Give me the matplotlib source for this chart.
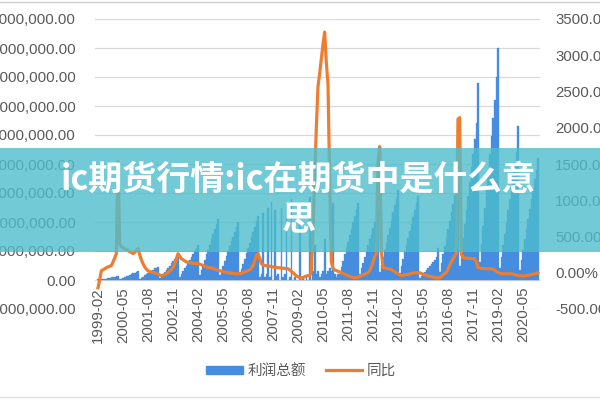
import matplotlib
matplotlib.use("Agg")
import matplotlib.pyplot as plt
from matplotlib.patches import Rectangle, Patch
from matplotlib.lines import Line2D
import pandas as pd

# monthly categories, first label 1999-02
months = [p.strftime("%Y-%m") for p in pd.period_range("1999-02", periods=265, freq="M")]

# 利润总额 (millions, left axis)
profit = [
    0.02,
    0.01, 0.02, 0.03, 0.04, 0.05, 0.06, 0.07, 0.09, 0.10, 0.12, 0.13, 0.15,
    0.03, 0.05, 0.08, 0.10, 0.13, 0.15, 0.18, 0.20, 0.23, 0.25, 0.28, 0.30,
    0.04, 0.08, 0.12, 0.16, 0.20, 0.24, 0.28, 0.32, 0.36, 0.40, 0.42, 0.45,
    0.07, 0.14, 0.21, 0.28, 0.35, 0.42, 0.50, 0.57, 0.64, 0.71, 0.78, 0.85,
    0.10, 0.20, 0.30, 0.40, 0.50, 0.60, 0.70, 0.80, 0.90, 1.00, 1.10, 1.20,
    0.18, 0.35, 0.52, 0.70, 0.88, 1.05, 1.22, 1.40, 1.58, 1.75, 1.92, 2.10,
    0.17, 0.33, 0.50, 0.67, 0.83, 1.00, 1.17, 1.33, 1.50, 1.67, 1.83, 2.00,
    0.18, 0.37, 0.55, 0.73, 0.92, 1.10, 1.28, 1.47, 1.65, 1.83, 2.02, 2.20,
    0.10, 0.20, 2.30, 0.10, 0.20, 2.50, 0.10, 2.70, 0.00, 2.40, 0.15, 0.20,
    0.00, 2.50, 0.10, 0.20, 2.60, 0.00, 0.10, 2.80, 0.00, 0.10, 0.00, 0.00,
    2.00, 0.00, 0.10, 0.00, 0.10, 0.00, 2.85, 0.00, 0.30, 1.20, 0.20, 0.30,
    0.10, 0.20, 0.30, 1.40, 0.20, 0.30, 0.40, 0.30, 2.65, 0.20, 0.10, 0.20,
    0.22, 0.44, 0.66, 0.88, 1.10, 1.32, 1.55, 1.77, 1.99, 2.21, 2.43, 2.65,
    0.20, 0.40, 0.60, 0.80, 1.00, 1.20, 1.40, 1.60, 1.80, 2.00, 2.20, 2.40,
    0.26, 0.52, 0.78, 1.03, 1.29, 1.55, 1.81, 2.07, 2.33, 2.58, 2.84, 3.10,
    0.24, 0.48, 0.73, 0.97, 1.21, 1.45, 1.69, 1.93, 2.18, 2.42, 2.66, 2.90,
    0.07, 0.14, 0.21, 0.28, 0.35, 0.42, 0.49, 0.56, 0.63, 0.70, 0.80, 1.10,
    0.29, 0.58, 0.88, 1.17, 1.46, 1.75, 2.04, 2.33, 2.63, 2.92, 3.21, 3.50,
    0.48, 0.97, 1.45, 1.94, 2.42, 2.91, 3.39, 3.88, 4.36, 4.85, 5.40, 6.80,
    0.62, 1.24, 1.86, 2.48, 3.10, 3.72, 4.34, 4.96, 5.58, 6.20, 7.00, 8.00,
    0.40, 0.80, 1.20, 1.60, 2.00, 2.40, 2.80, 3.20, 3.60, 4.00, 4.40, 5.30,
    0.35, 0.70, 1.05, 1.40, 1.75, 2.10, 2.45, 2.80, 3.15, 3.50, 3.80, 4.20,
]

# 同比 (%, right axis)
yoy = [
    -208, -100, 28, 40, 55, 70, 80, 90, 97, 150, 200, 264,
    1530,
    400, 360, 347, 330, 320, 306, 290, 280, 264, 280, 310,
    333, 250, 180, 125, 80, 50, 28, 15, 10, 5, 0, -10,
    -20, -30, -42, -35, -25, -10, 0, 20, 45, 70, 120, 190,
    264, 230, 194, 180, 165, 150, 145, 139, 135, 130, 128, 126,
    125, 120, 110, 100, 90, 80, 70, 70, 65, 60, 50, 40,
    35, 28, 20, 15, 10, 5, 0, 0, -5, -10, -12, -14,
    -14, -10, -5, 0, 10, 20, 28, 40, 60, 100, 160, 236,
    264, 200, 125, 110, 100, 97, 95, 90, 85, 80, 75, 72,
    70, 68, 65, 62, 60, 58, 55, 40, 20, 0, -20, -42,
    -55, -65, -70, -65, -55, -45, -40, -40,
    20, 600, 1300, 2000, 2570, 2750, 2950, 3150, 3320, 2900, 2600, 1300, 150,
    60, 40, 30, 20, 10, 0, -10, -20, -30, -40, -50, -60, -65, -70, -70,
    -60, -50, -42, -30, -20, -10, 0, 30, 80, 150, 220, 264,
    1500, 1740, 300,
    70, 65, 60, 55, 55, 45, 30, 15, 0, -15, -30, -42,
    -35, -30, -25, -20, -14, -10, -5, 0, 0, 0, 0, -10,
    -20, -30, -35, -42, -50, -55, -60, -65, -70, -70, -70, -50,
    -30, -10, 0, 50, 100, 150, 194, 230, 264,
    2120, 2140, 260,
    208, 205, 200, 200, 198, 196, 195, 194, 150, 70, 65, 60,
    58, 56, 55, 55, 55, 55, 50, 35, 20, 5, -5, -14,
    -14, -14, -14, -14, -14, -14, -20, -25, -30, -35, -40, -42,
    -42, -42, -40, -35, -30, -25, -20, -14, -10, 0,
]

left_ticks = [-1, 0, 1, 2, 3, 4, 5, 6, 7, 8, 9]
right_ticks = [-500, 0, 500, 1000, 1500, 2000, 2500, 3000, 3500]
label_step = 15
series_names = ["利润总额", "同比"]
title_lines = ["ic期货行情:ic在期货中是什么意", "思"]

assert len(profit) == len(months) == len(yoy)

BLUE = "#468CDF"
ORANGE = "#ED7D31"
GREY = "#595959"

plt.rcParams['font.family'] = ['Liberation Sans', 'Noto Sans CJK SC', 'DejaVu Sans']

fig = plt.figure(figsize=(6, 4), dpi=100)
ax = fig.add_axes([95 / 600, 1 - 309 / 400, 445 / 600, 290 / 400])
ax2 = ax.twinx()

x = list(range(len(months)))
ax.bar(x, profit, width=1.0, color=BLUE, edgecolor=BLUE, linewidth=0.25, zorder=2)
ax.set_ylim(left_ticks[0], left_ticks[-1])
ax.set_yticks(left_ticks)
ax.set_yticklabels([f"{v * 1_000_000:,.2f}" for v in left_ticks])
ax.grid(axis='y', color='#D9D9D9', lw=0.9)
ax.set_axisbelow(True)
ax.set_xlim(-1.8, 265.2)
ax.set_xticks([])
for s in ax.spines.values():
    s.set_visible(False)
ax.tick_params(axis='y', length=0, pad=14, labelsize=10.8, labelcolor=GREY)

ax2.plot(x, yoy, color=ORANGE, lw=2.3, solid_joinstyle='round', zorder=3)
ax2.set_ylim(right_ticks[0], right_ticks[-1])
ax2.set_yticks(right_ticks)
ax2.set_yticklabels([f"{v:.2f}%" for v in right_ticks])
ax2.tick_params(axis='y', length=0, pad=11, labelsize=10.8, labelcolor=GREY)
for s in ax2.spines.values():
    s.set_visible(False)

for i in range(0, len(months), label_step):
    ax.annotate(months[i], xy=(i, 0), xycoords='data', xytext=(0, -5),
                textcoords='offset points', rotation=90, ha='center', va='top',
                fontsize=10.8, color=GREY)

handles = [Patch(color=BLUE), Line2D([], [], color=ORANGE, lw=2.3)]
fig.legend(handles=handles, labels=series_names, loc='center',
           bbox_to_anchor=(0.502, 0.0725), ncol=2, frameon=False,
           prop={'family': ['Noto Sans CJK SC'], 'size': 10.5},
           labelcolor=GREY, handlelength=2.5, handleheight=0.5,
           columnspacing=1.4, handletextpad=0.3)

# border lines
fig.add_artist(Line2D([0, 1], [0.996, 0.996], transform=fig.transFigure, color='#D0D0D0', lw=1))
fig.add_artist(Line2D([0, 1], [0.008, 0.008], transform=fig.transFigure, color='#E0E0E0', lw=1))

# overlay banner
fig.add_artist(Rectangle((0, 1 - 252 / 400), 1, 104 / 400, transform=fig.transFigure,
                         facecolor=(0.30, 0.74, 0.80), alpha=0.8, edgecolor='none', zorder=10))
fig.text(0.4975, 1 - 179 / 400, title_lines[0], ha='center', va='center', color='white',
         fontsize=24.5, fontweight='bold', family=['Noto Sans CJK SC', 'DejaVu Sans'], zorder=11)
fig.text(0.4975, 1 - 220 / 400, title_lines[1], ha='center', va='center', color='white',
         fontsize=24.5, fontweight='bold', family=['Noto Sans CJK SC', 'DejaVu Sans'], zorder=11)

fig.savefig('out.png', dpi=100)
